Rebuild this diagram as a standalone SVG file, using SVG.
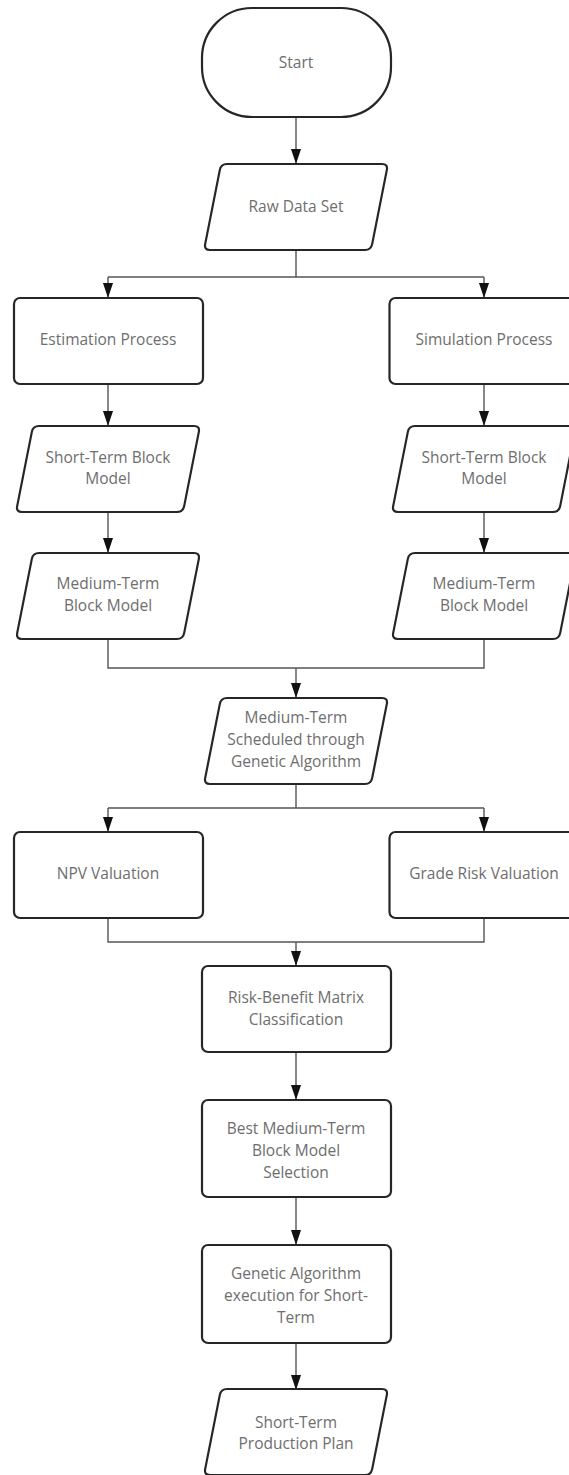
<svg xmlns="http://www.w3.org/2000/svg" width="569" height="1475" viewBox="0 0 569 1475">
<style>
.s{fill:#fff;stroke:#262626;stroke-width:2.2}
.c{fill:none;stroke:#555;stroke-width:1.4}
.a{fill:none;stroke:#555;stroke-width:1.4;marker-end:url(#ah)}
text{font-family:"Open Sans","Noto Sans","Liberation Sans",sans-serif;font-size:15.5px;fill:#6e6e6e;text-anchor:middle}
</style>
<defs>
<marker id="ah" markerUnits="userSpaceOnUse" markerWidth="15" markerHeight="11" refX="15" refY="5.5" orient="auto">
<path d="M0,0.5 L15,5.5 L0,10.5 z" fill="#111"/>
</marker>
<path id="pg" d="M 23,0 H 178 Q 184,0 182.84,5.89 L 168.16,80.11 Q 167,86 161,86 H 6 Q 0,86 1.16,80.11 L 15.84,5.89 Q 17,0 23,0 Z"/>
</defs>
<rect width="569" height="1475" fill="#fff"/>
<g id="connectors">
<path class="a" d="M296,117 V164"/>
<path class="c" d="M296,250 V277 M108,277 H484"/>
<path class="a" d="M108,277 V298"/>
<path class="a" d="M484,277 V298"/>
<path class="a" d="M108,384 V426"/>
<path class="a" d="M484,384 V426"/>
<path class="a" d="M108,512 V553"/>
<path class="a" d="M484,512 V553"/>
<path class="c" d="M108,639 V668 H484 V639"/>
<path class="a" d="M296,668 V698"/>
<path class="c" d="M296,784 V808 M108,808 H484"/>
<path class="a" d="M108,808 V832"/>
<path class="a" d="M484,808 V832"/>
<path class="c" d="M108,918 V942 H484 V918"/>
<path class="a" d="M296,942 V966"/>
<path class="a" d="M296,1052 V1100"/>
<path class="a" d="M296,1197 V1245"/>
<path class="a" d="M296,1343 V1390"/>
</g>
<g id="start"><rect class="s" x="202" y="8" width="189" height="109" rx="50" ry="50"/><text x="296" y="67.5">Start</text></g>
<g id="raw"><use href="#pg" class="s" transform="translate(204,164)"/><text x="296" y="211.5">Raw Data Set</text></g>
<g id="estimation"><rect class="s" x="14" y="298" width="189" height="86" rx="6"/><text x="108" y="344.5">Estimation Process</text></g>
<g id="simulation"><rect class="s" x="389.5" y="298" width="189" height="86" rx="6"/><text x="484" y="344.5">Simulation Process</text></g>
<g id="st-left"><use href="#pg" class="s" transform="translate(16,426)"/><text x="108" y="462.5">Short-Term Block</text><text x="108" y="483.5">Model</text></g>
<g id="st-right"><use href="#pg" class="s" transform="translate(392,426)"/><text x="484" y="462.5">Short-Term Block</text><text x="484" y="483.5">Model</text></g>
<g id="mt-left"><use href="#pg" class="s" transform="translate(16,553)"/><text x="108" y="588.5">Medium-Term</text><text x="108" y="610.5">Block Model</text></g>
<g id="mt-right"><use href="#pg" class="s" transform="translate(392,553)"/><text x="484" y="588.5">Medium-Term</text><text x="484" y="610.5">Block Model</text></g>
<g id="mt-scheduled"><use href="#pg" class="s" transform="translate(204,698)"/><text x="296" y="722.5">Medium-Term</text><text x="296" y="744.5">Scheduled through</text><text x="296" y="766.5">Genetic Algorithm</text></g>
<g id="npv"><rect class="s" x="14" y="832" width="189" height="86" rx="6"/><text x="108" y="878.5">NPV Valuation</text></g>
<g id="grade"><rect class="s" x="389.5" y="832" width="189" height="86" rx="6"/><text x="484" y="878.5">Grade Risk Valuation</text></g>
<g id="risk-benefit"><rect class="s" x="202" y="966" width="189" height="86" rx="6"/><text x="296" y="1002.5">Risk-Benefit Matrix</text><text x="296" y="1024.5">Classification</text></g>
<g id="best"><rect class="s" x="202" y="1100" width="189" height="97" rx="6"/><text x="296" y="1133.5">Best Medium-Term</text><text x="296" y="1155.5">Block Model</text><text x="296" y="1177.5">Selection</text></g>
<g id="genetic"><rect class="s" x="202" y="1245" width="189" height="98" rx="6"/><text x="296" y="1278.5">Genetic Algorithm</text><text x="296" y="1300.5">execution for Short-</text><text x="296" y="1322.5">Term</text></g>
<g id="plan"><use href="#pg" class="s" transform="translate(204,1389)"/><text x="296" y="1427.5">Short-Term</text><text x="296" y="1448.5">Production Plan</text></g>
</svg>
